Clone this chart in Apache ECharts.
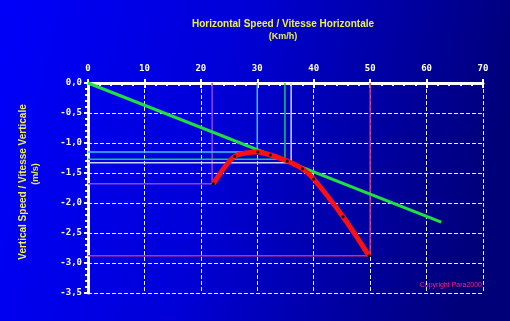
<!DOCTYPE html>
<html><head><meta charset="utf-8">
<script src="https://cdn.jsdelivr.net/npm/echarts@6/dist/echarts.min.js"></script>
<style>html,body{margin:0;padding:0;}#c{width:510px;height:321px;}</style>
</head><body><div id="c"></div>
<script>
// Horizontal speed (km/h) vs vertical speed (m/s)
const xTicks = [0, 10, 20, 30, 40, 50, 60, 70];
const yTicks = [0, -0.5, -1, -1.5, -2, -2.5, -3, -3.5];
// Glide-polar curve (red)
const polarX = [22.2, 26.0, 30.1, 32.3, 35.3, 38.0, 40.0, 45.2, 49.8];
const polarY = [-1.68, -1.22, -1.15, -1.20, -1.30, -1.43, -1.60, -2.23, -2.88];
// Best glide tangent (green)
const tangentX = [0, 62.6];
const tangentY = [0, -2.32];
// Reference points (speed, sink)
const refNames = ['minSpeed', 'minSink', 'bestGlideA', 'bestGlideB', 'maxSpeed'];
const refX = [22.0, 30.0, 34.9, 36.0, 50.0];
const refY = [-1.68, -1.15, -1.27, -1.33, -2.88];
const refColors = ['#9040e0', '#40c0ff', '#20c070', '#d0d0ff', '#c03090'];

const chart = echarts.init(document.getElementById('c'), null, {renderer: 'canvas'});
const tickFont = {color: '#ffffff', fontFamily: 'DejaVu Sans Mono', fontWeight: 'bold', fontSize: 9};

const series = [];
refX.forEach((x, i) => {
  series.push({
    type: 'line', name: refNames[i], xAxisIndex: 0, yAxisIndex: 0,
    data: [[0, refY[i]], [x, refY[i]], [x, 0]],
    symbol: 'none', lineStyle: {color: refColors[i], width: 1.5}, z: 3, silent: true
  });
});
series.push({
  type: 'line', name: 'tangent', xAxisIndex: 0, yAxisIndex: 0,
  data: tangentX.map((x, i) => [x, tangentY[i]]),
  symbol: 'none', lineStyle: {color: '#20e040', width: 3}, z: 4
});
series.push({
  type: 'line', name: 'polar', xAxisIndex: 0, yAxisIndex: 0,
  data: polarX.map((x, i) => [x, polarY[i]]),
  smooth: 0.25, symbol: 'circle', symbolSize: 3, showSymbol: true,
  itemStyle: {color: '#000000'},
  lineStyle: {color: '#ff1010', width: 5}, z: 5
});

chart.setOption({
  animation: false,
  backgroundColor: {
    type: 'linear', x: 0, y: 0, x2: 1, y2: 0.35,
    colorStops: [{offset: 0, color: '#0000fa'}, {offset: 0.45, color: '#0000d8'}, {offset: 1, color: '#000078'}]
  },
  grid: {left: 88, top: 83, width: 395, height: 210, containLabel: false},
  xAxis: [{
    type: 'value', position: 'top', min: 0, max: 70, interval: 10,
    axisLine: {show: true, lineStyle: {color: '#ffffff', width: 3}},
    axisTick: {show: true, inside: true, length: 5, lineStyle: {color: '#ffffff', width: 2}},
    minorTick: {show: true, splitNumber: 5, length: 3, lineStyle: {color: '#ffffff', width: 2}},
    axisLabel: Object.assign({margin: 10, formatter: v => String(v)}, tickFont),
    splitLine: {show: true, lineStyle: {color: '#e8e8ff', width: 1, type: [4, 2]}}
  }, {
    type: 'value', position: 'top', min: 0, max: 70, interval: 10,
    axisLine: {show: false}, axisLabel: {show: false}, splitLine: {show: false},
    axisTick: {show: true, inside: false, length: 4, lineStyle: {color: '#ffffff', width: 2}}
  }],
  yAxis: [{
    type: 'value', min: -3.5, max: 0, interval: 0.5,
    axisLine: {show: true, lineStyle: {color: '#ffffff', width: 3}},
    axisTick: {show: true, inside: false, length: 4, lineStyle: {color: '#ffffff', width: 2}},
    minorTick: {show: true, splitNumber: 5, length: 3, lineStyle: {color: '#ffffff', width: 2}},
    axisLabel: Object.assign({margin: 6, formatter: v => v.toFixed(1).replace('.', ',')}, tickFont),
    splitLine: {show: true, lineStyle: {color: '#e8e8ff', width: 1, type: [4, 2]}}
  }],
  series: series,
  graphic: [
    {type: 'text', x: 283, y: 24, style: {text: 'Horizontal Speed / Vitesse Horizontale', fill: '#f0f050',
      font: 'bold 10px "Liberation Sans"', align: 'center', verticalAlign: 'middle'}},
    {type: 'text', x: 283, y: 37, style: {text: '(Km/h)', fill: '#f0f050',
      font: 'bold 9px "Liberation Sans"', align: 'center', verticalAlign: 'middle'}},
    {type: 'text', x: 23, y: 182, rotation: Math.PI / 2, style: {text: 'Vertical Speed / Vitesse Verticale', fill: '#f0f050',
      font: 'bold 10px "Liberation Sans"', align: 'center', verticalAlign: 'middle'}},
    {type: 'text', x: 36, y: 174, rotation: Math.PI / 2, style: {text: '(m/s)', fill: '#f0f050',
      font: 'bold 9px "Liberation Sans"', align: 'center', verticalAlign: 'middle'}},
    {type: 'text', x: 482, y: 285, style: {text: 'Copyright Para2000', fill: '#ff2080',
      font: '7px "Liberation Sans"', align: 'right', verticalAlign: 'middle'}}
  ]
});
</script></body></html>
